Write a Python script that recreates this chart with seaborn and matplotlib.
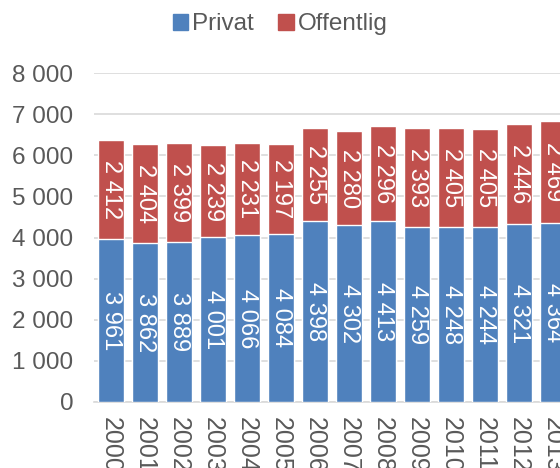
import matplotlib
matplotlib.use("Agg")
import matplotlib.pyplot as plt
import seaborn as sns
import pandas as pd
from matplotlib.patches import Patch

years = ["2000", "2001", "2002", "2003", "2004", "2005", "2006",
         "2007", "2008", "2009", "2010", "2011", "2012", "2013"]
privat = [3961, 3862, 3889, 4001, 4066, 4084, 4398,
          4302, 4413, 4259, 4248, 4244, 4321, 4364]
offentlig = [2412, 2404, 2399, 2239, 2231, 2197, 2255,
             2280, 2296, 2393, 2405, 2405, 2446, 2469]

BLUE = "#4F81BD"
RED = "#C0504D"
GREY = "#595959"

sns.set_theme(style="white")
plt.rcParams["font.family"] = ["Liberation Sans", "DejaVu Sans"]

df = pd.DataFrame({"year": years, "Privat": privat, "Offentlig": offentlig})
df["total"] = df["Privat"] + df["Offentlig"]


def fmt(v):
    return f"{v:,}".replace(",", " ")


fig = plt.figure(figsize=(5.6, 4.68), dpi=100)
ax = fig.add_axes([94 / 560, 66 / 468, 1 - 94 / 560, (402 - 73) / 468])

# red bar drawn at full height, blue privat part on top of it
sns.barplot(data=df, x="year", y="total", color=RED, saturation=1, width=0.76, ax=ax, zorder=2)
sns.barplot(data=df, x="year", y="Privat", color=BLUE, saturation=1, width=0.76, ax=ax, zorder=3)

for i, row in df.iterrows():
    ax.text(i, row["Privat"] / 2, fmt(row["Privat"]), rotation=270, ha="center", va="center",
            color="white", fontsize=17, zorder=4, clip_on=True)
    ax.text(i, row["Privat"] + row["Offentlig"] / 2, fmt(row["Offentlig"]), rotation=270,
            ha="center", va="center", color="white", fontsize=17, zorder=4, clip_on=True)

ax.set_ylim(0, 8000)
ax.set_xlim(-0.5, 13.2)
ax.set_yticks(range(0, 8001, 1000))
ax.set_yticklabels([fmt(v) for v in range(0, 8001, 1000)])
ax.yaxis.grid(True, color="#D9D9D9", linewidth=1.2, zorder=0)
ax.set_axisbelow(True)
ax.set_xlabel("")
ax.set_ylabel("")
for s in ["top", "right", "left"]:
    ax.spines[s].set_visible(False)
ax.spines["bottom"].set_color("#D9D9D9")
ax.spines["bottom"].set_linewidth(1.2)
ax.tick_params(axis="y", labelsize=17.5, colors=GREY, pad=15, length=0)
ax.tick_params(axis="x", labelsize=18, colors=GREY, pad=11, length=0, labelrotation=270)

handles = [Patch(color=BLUE, label="Privat"), Patch(color=RED, label="Offentlig")]
fig.legend(handles=handles, loc="upper center", bbox_to_anchor=(0.5, 1.018), ncol=2,
           frameon=False, fontsize=17.5, labelcolor=GREY, handlelength=0.65, handleheight=0.65,
           handletextpad=0.15, columnspacing=1.0)

fig.savefig("out.png", dpi=100)
